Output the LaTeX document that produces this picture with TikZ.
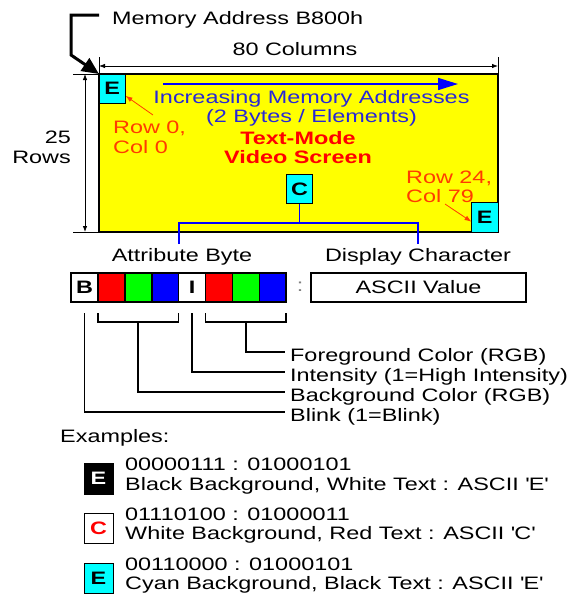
\documentclass[tikz,border=0pt]{standalone}
\usepackage{fontspec}
\setmainfont{Liberation Sans}[FakeStretch=1.3]
\usepackage{xcolor}
\usetikzlibrary{positioning,arrows.meta}

\definecolor{incrblue}{RGB}{40,40,215}
\definecolor{rowred}{RGB}{255,60,0}
\definecolor{scrcyan}{RGB}{0,255,255}
\definecolor{scryellow}{RGB}{255,255,0}
\definecolor{bitred}{RGB}{255,0,0}
\definecolor{bitgreen}{RGB}{0,255,0}
\definecolor{bitblue}{RGB}{0,0,255}

\begin{document}
\begin{tikzpicture}[x=1pt,y=-1pt,
    lbl/.style={font=\fontsize{18}{19.5}\selectfont,inner sep=0pt},
    glyph/.style={draw,line width=0.8pt,fill=scrcyan,minimum width=26.5pt,minimum height=29.5pt,inner sep=0pt,outer sep=0pt,font=\fontsize{18}{18}\selectfont\bfseries},
    bit/.style={draw,line width=1.6pt,minimum width=26.9pt,minimum height=29pt,inner sep=0pt,outer sep=0pt,font=\fontsize{18}{18}\selectfont\bfseries},
    dim/.style={line width=0.8pt,{Latex[length=6pt,width=4.5pt]}-{Latex[length=6pt,width=4.5pt]}},
    ext/.style={line width=0.8pt},
    redarr/.style={rowred,line width=0.8pt,-{Latex[length=7pt,width=5pt]}},
    bus/.style={bitblue,line width=1.8pt},
    bracket/.style={line width=1.6pt}
  ]
    \useasboundingbox (0,0) rectangle (582,598);

    % video screen
    \node[draw,line width=1.6pt,fill=scryellow,minimum width=399pt,minimum height=158pt,inner sep=0pt,outer sep=0pt,anchor=north west] (screen) at (99,74) {};
    \node[glyph,anchor=north west] (topE) at (screen.north west) {E};
    \node[glyph,anchor=south east] (botE) at (screen.south east) {E};
    \node[glyph] (cbox) at (299.5,189) {C};

    % dimensions
    \draw[ext] (screen.north west) -- ++(0,-17);
    \draw[ext] (screen.north east) -- ++(0,-17);
    \draw[dim] ([yshift=8pt]screen.north west) -- ([yshift=8pt]screen.north east);
    \draw[ext] (screen.north west) -- ++(-26,0);
    \draw[ext] (screen.south west) -- ++(-26,0);
    \draw[dim] ([xshift=-14pt]screen.north west) -- ([xshift=-14pt]screen.south west);
    \node[lbl] (cols) at (295,49) {80 Columns};
    \node[lbl,align=right,anchor=east] (rows) at (71,147.5) {25\\Rows};

    % start address
    \node[lbl,anchor=west] (addr) at (112,20) {Memory Address B800h};
    \coordinate (addrtail) at (99,15);
    \draw[line width=3pt,-{Triangle[length=17pt,width=15pt]}] (addrtail) -- (71,15) -- (71,55) -- (screen.north west);

    % screen texts
    \coordinate (mstart) at (163,84);
    \coordinate (mend) at (458,84);
    \draw[bitblue,line width=1.6pt,-{Triangle[length=20pt,width=12pt]}] (mstart) -- (mend);
    \node[lbl,text=incrblue,align=center] (incr) at (311.5,108.5) {Increasing Memory Addresses\\(2 Bytes / Elements)};
    \node[lbl,text=bitred,align=center,font=\fontsize{18}{19.5}\selectfont\bfseries] (tmode) at (298,147.5) {Text-Mode\\Video Screen};
    \node[lbl,text=rowred,align=left,anchor=west] (row0) at (113,137.5) {Row 0,\\Col 0};
    \node[lbl,text=rowred,align=left,anchor=west] (row24) at (406,187) {Row 24,\\Col 79};
    \coordinate (r0tail) at (153,115);
    \coordinate (r24tail) at (445,204);
    \draw[redarr] (r0tail) -- ([yshift=-7pt]topE.east);
    \draw[redarr] (r24tail) -- ([yshift=-4.5pt]botE.west);

    % split into attribute and character
    \coordinate (split) at (299.5,223);
    \coordinate (attrtap) at (179,244);
    \coordinate (disptap) at (418,244);
    \draw[bus] (cbox.south) -- (split);
    \draw[bus] (attrtap) |- (split) -| (disptap);
    \node[lbl] (attr) at (182,257) {Attribute Byte};
    \node[lbl] (disp) at (418,257) {Display Character};

    % attribute bits
    \node[bit,fill=white] (b7) at (84.45,287.5) {B};
    \node[bit,fill=bitred,right=0pt of b7] (b6) {};
    \node[bit,fill=bitgreen,right=0pt of b6] (b5) {};
    \node[bit,fill=bitblue,right=0pt of b5] (b4) {};
    \node[bit,fill=white,right=0pt of b4] (b3) {I};
    \node[bit,fill=bitred,right=0pt of b3] (b2) {};
    \node[bit,fill=bitgreen,right=0pt of b2] (b1) {};
    \node[bit,fill=bitblue,right=0pt of b1] (b0) {};
    \node[lbl,text=gray] (colon) at (300,287) {:};
    \node[bit,font=\fontsize{18}{18}\selectfont,minimum width=215pt] (ascii) at (418.5,287.5) {ASCII Value};

    % bit fields
    \node[lbl,anchor=west] (fgl) at (290,356.5) {Foreground Color (RGB)};
    \node[lbl,anchor=west] (inl) at (290,376.5) {Intensity (1=High Intensity)};
    \node[lbl,anchor=west] (bgl) at (290,396.5) {Background Color (RGB)};
    \node[lbl,anchor=west] (bll) at (290,416.5) {Blink (1=Blink)};
    \draw[bracket] ([yshift=-11pt]b2.south west) -- ++(0,9) -| ([yshift=-11pt]b0.south east);
    \draw[bracket] ([yshift=-20pt]b1.south) |- ([shift={(-5pt,4.5pt)}]fgl.west);
    \draw[bracket] ([yshift=-11pt]b3.south) |- ([shift={(-5pt,4.5pt)}]inl.west);
    \draw[bracket] ([yshift=-11pt]b6.south west) -- ++(0,9) -| ([yshift=-11pt]b4.south east);
    \draw[bracket] ([yshift=-20pt]b5.south) |- ([shift={(-5pt,4.5pt)}]bgl.west);
    \draw[bracket] ([yshift=-11pt]b7.south) |- ([shift={(-5pt,4.5pt)}]bll.west);

    % examples
    \node[lbl,anchor=west] (exl) at (60,438) {Examples:};
    \node[glyph,fill=black,text=white,minimum width=29pt,minimum height=31pt] (ex1) at (98.5,478.5) {E};
    \node[glyph,fill=white,text=bitred,minimum width=29pt,minimum height=30pt] (ex2) at (98.5,528.5) {C};
    \node[glyph,fill=scrcyan,minimum width=29pt,minimum height=30pt] (ex3) at (98.5,578) {E};
    \node[lbl,align=left,anchor=west,right=12pt of ex1,yshift=2.5pt] (ex1t) {00000111 : 01000101\\Black Background, White Text : ASCII \textquotesingle E\textquotesingle};
    \node[lbl,align=left,anchor=west,right=12pt of ex2,yshift=3pt] (ex2t) {01110100 : 01000011\\White Background, Red Text : ASCII \textquotesingle C\textquotesingle};
    \node[lbl,align=left,anchor=west,right=12pt of ex3,yshift=2.5pt] (ex3t) {00110000 : 01000101\\Cyan Background, Black Text : ASCII \textquotesingle E\textquotesingle};
  \end{tikzpicture}
\end{document}
